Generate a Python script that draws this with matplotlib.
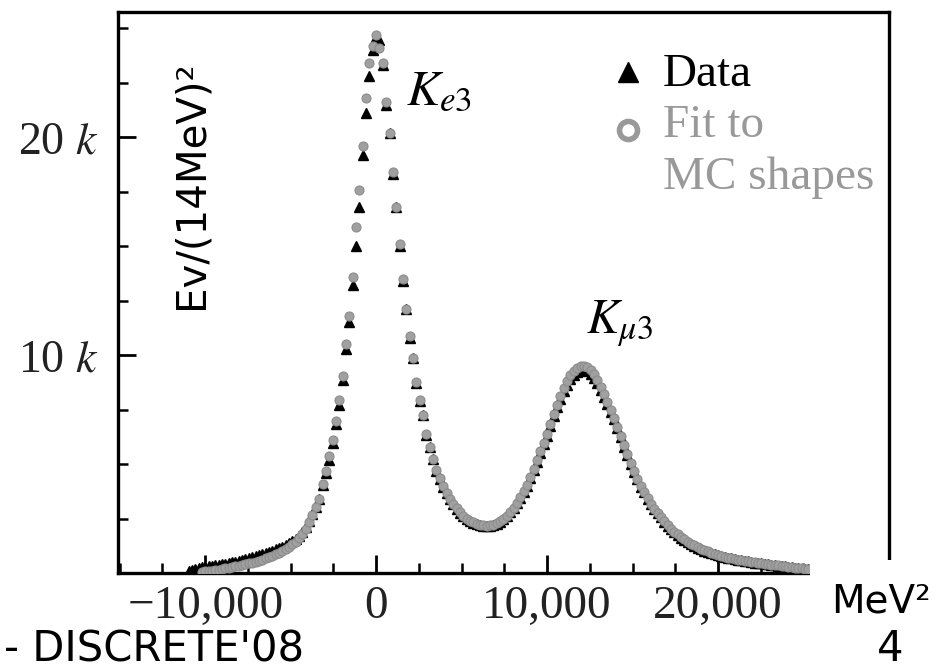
import numpy as np
import matplotlib
matplotlib.use("Agg")
import matplotlib.pyplot as plt
from matplotlib.patches import Rectangle
from matplotlib.ticker import MultipleLocator

plt.rcParams["mathtext.fontset"] = "stix"

# bins of (14 MeV)^2, counts in thousands of events
BIN = 196
data_first_bin = -56
fit_first_bin = -52

data_kev = [
    0.10, 0.14, 0.18, 0.22, 0.26, 0.28, 0.30, 0.33, 0.36, 0.38,
    0.41, 0.43, 0.46, 0.49, 0.52, 0.56, 0.60, 0.64, 0.68, 0.72,
    0.76, 0.81, 0.86, 0.91, 0.97, 1.03, 1.09, 1.15, 1.21, 1.28,
    1.37, 1.47, 1.58, 1.72, 1.90, 2.12, 2.40,
    2.72, 3.02, 3.38, 4.05, 4.60, 5.20, 5.95, 6.85, 7.70, 8.85,
    10.3, 11.5, 13.2, 15.0, 16.8, 19.2, 21.1, 22.8, 24.0,
    24.6, 24.45, 23.3, 21.5, 20.2, 18.3, 16.8, 15.0, 13.4, 12.1,
    10.8, 9.85, 8.7, 7.9, 7.25, 6.35, 5.8, 5.25, 4.7, 4.3,
    3.95, 3.65, 3.4, 3.15, 2.95, 2.75, 2.6, 2.48, 2.38, 2.3,
    2.24, 2.2, 2.17, 2.16, 2.17, 2.2, 2.26, 2.35, 2.46, 2.6,
    2.78, 2.98, 3.2, 3.45, 3.72, 4.0, 4.35, 4.72, 5.1, 5.5,
    5.9, 6.3, 6.75, 7.2, 7.6, 8.0, 8.35, 8.65, 8.9, 9.1,
    9.22, 9.3, 9.3, 9.25, 9.15, 8.95, 8.7, 8.4, 8.1, 7.75,
    7.4, 7.05, 6.65, 6.25, 5.8, 5.4, 5.0, 4.65, 4.3, 3.95,
    3.7, 3.42, 3.18, 2.95, 2.75, 2.55, 2.35, 2.18, 2.02, 1.88,
    1.75, 1.63, 1.52, 1.42, 1.33, 1.25, 1.17, 1.09, 1.03, 0.97,
    0.91, 0.86, 0.81, 0.77, 0.73, 0.70, 0.67, 0.64, 0.61, 0.58,
    0.55, 0.53, 0.50, 0.48, 0.46, 0.44, 0.42, 0.40, 0.38, 0.36,
    0.34, 0.32, 0.30, 0.28, 0.26, 0.24, 0.22, 0.20, 0.18, 0.17,
]

fit_kev = [
    0.05, 0.07, 0.09, 0.11, 0.13, 0.15, 0.18, 0.21, 0.24, 0.27,
    0.30, 0.33, 0.36, 0.40, 0.44, 0.48, 0.52, 0.57, 0.62, 0.67,
    0.73, 0.79, 0.86, 0.93, 1.01, 1.10, 1.20, 1.31, 1.44, 1.59,
    1.78, 2.02, 2.32,
    2.68, 3.02, 3.42, 4.10, 4.70, 5.35, 6.10, 7.00, 7.95, 9.05,
    10.5, 11.8, 13.6, 15.9, 17.6, 19.6, 21.8, 23.4, 24.2,
    24.7, 24.1, 23.4, 21.6, 20.2, 18.4, 16.8, 15.1, 13.5, 12.1,
    10.9, 9.85, 8.75, 7.95, 7.25, 6.4, 5.8, 5.25, 4.75, 4.35,
    3.98, 3.68, 3.42, 3.18, 2.97, 2.78, 2.62, 2.5, 2.4, 2.32,
    2.26, 2.22, 2.19, 2.18, 2.19, 2.22, 2.28, 2.37, 2.48, 2.62,
    2.8, 3.0, 3.22, 3.47, 3.75, 4.05, 4.4, 4.78, 5.17, 5.58,
    5.98, 6.4, 6.85, 7.3, 7.72, 8.12, 8.5, 8.82, 9.08, 9.28,
    9.42, 9.5, 9.52, 9.46, 9.33, 9.12, 8.86, 8.55, 8.22, 7.86,
    7.5, 7.12, 6.72, 6.3, 5.86, 5.44, 5.04, 4.68, 4.32, 3.98,
    3.7, 3.43, 3.19, 2.96, 2.76, 2.56, 2.37, 2.2, 2.04, 1.9,
    1.77, 1.65, 1.54, 1.44, 1.35, 1.27, 1.19, 1.11, 1.05, 0.99,
    0.93, 0.88, 0.83, 0.79, 0.75, 0.71, 0.68, 0.65, 0.62, 0.59,
    0.56, 0.54, 0.51, 0.49, 0.47, 0.45, 0.43, 0.41, 0.39, 0.37,
    0.35, 0.33, 0.31, 0.29, 0.27, 0.25, 0.23, 0.21, 0.19, 0.18,
]

x_ticks = [-10000, 0, 10000, 20000]
x_tick_labels = ["\u221210,000", "0", "10,000", "20,000"]
y_ticks = [10, 20]
y_tick_labels = ["10 $k$", "20 $k$"]

data_x = (np.arange(len(data_kev)) + data_first_bin) * BIN
fit_x = (np.arange(len(fit_kev)) + fit_first_bin) * BIN

fig = plt.figure(figsize=(9.45, 6.72), dpi=100)
ax = fig.add_axes([0.1249, 0.1473, 0.8158, 0.8348])

ax.plot(data_x, data_kev, ls="none", marker="^", ms=7,
        color="black", mec="black", zorder=2)
ax.plot(fit_x, fit_kev, ls="none", marker="o", ms=6.5,
        color="#a0a0a0", mec="#8c8c8c", mew=0.8, zorder=3)

ax.set_xlim(-15100, 30000)
ax.set_ylim(0, 25.75)

for sp in ax.spines.values():
    sp.set_linewidth(2.4)

ax.set_xticks(x_ticks)
ax.set_xticklabels(x_tick_labels, fontsize=34, fontfamily="Liberation Serif",
                   color="#222222")
ax.set_yticks(y_ticks)
ax.set_yticklabels(y_tick_labels, fontsize=33, fontfamily="Liberation Serif",
                   color="#222222")
ax.xaxis.set_minor_locator(MultipleLocator(2500))
ax.yaxis.set_minor_locator(MultipleLocator(2.5))
ax.tick_params(which="both", direction="in", top=False, right=False)
ax.tick_params(which="major", length=13, width=2)
ax.tick_params(which="minor", length=7.5, width=1.8)
ax.tick_params(axis="x", which="major", pad=9)
ax.tick_params(axis="y", which="major", pad=14)

# peak labels
ax.text(1750, 21.5, "$K_{e3}$", fontsize=36, va="baseline", ha="left")
ax.text(12300, 11.0, r"$K_{\mu3}$", fontsize=35, va="baseline", ha="left")

# legend
ax.plot([0.661], [0.893], marker="^", ms=14, color="black",
        transform=ax.transAxes, clip_on=False)
ax.plot([0.661], [0.790], marker="o", ms=13, mfc="white", mec="#999999",
        mew=4, transform=ax.transAxes, clip_on=False)
ax.text(0.707, 0.888, "Data", fontsize=34, fontfamily="Liberation Serif",
        va="center", ha="left", transform=ax.transAxes)
ax.text(0.707, 0.797, "Fit to", fontsize=34, fontfamily="Liberation Serif",
        va="center", ha="left", color="#999999", transform=ax.transAxes)
ax.text(0.707, 0.704, "MC shapes", fontsize=34, fontfamily="Liberation Serif",
        va="center", ha="left", color="#999999", transform=ax.transAxes)

# slide overlay
fig.add_artist(Rectangle((0.857, 0.0), 0.143, 0.1667, transform=fig.transFigure,
                         facecolor="white", edgecolor="none", zorder=5))
fig.text(0.203, 0.725, "Ev/(14MeV)\u00b2", rotation=90, fontsize=29,
         ha="center", va="center", zorder=6)
fig.text(0.932, 0.105, "MeV\u00b2", fontsize=28, ha="center", va="center", zorder=6)
fig.text(0.004, 0.016, "- DISCRETE'08", fontsize=30, ha="left", va="baseline", zorder=6)
fig.text(0.942, 0.016, "4", fontsize=30, ha="center", va="baseline", zorder=6)

fig.savefig("out.png", dpi=100)
